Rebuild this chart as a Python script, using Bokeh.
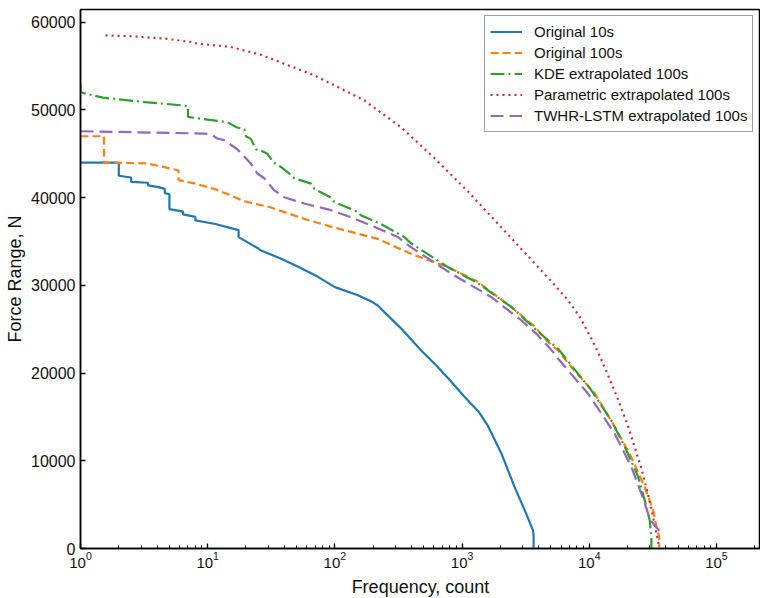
from bokeh.plotting import figure
from bokeh.models import Range1d, FixedTicker, Legend, LegendItem, BasicTickFormatter
from bokeh.embed import file_html
from bokeh.resources import INLINE

# ---------------- data ----------------
orig10_x = [1, 2, 2, 2.5, 2.5, 3.4, 3.4, 4.1, 4.6, 4.6, 5.0, 5.0, 6.4, 6.4, 8.0, 8.0,
            11.5, 17.5, 17.5, 25, 26, 37, 50, 73, 100, 150, 192, 217, 331, 475, 644,
            800, 1044, 1350, 1593, 2030, 2590, 3100, 3606, 3650, 3650]
orig10_y = [44000, 44000, 42500, 42300, 41800, 41700, 41400, 41200, 41000, 40500, 40400,
            38700, 38400, 38100, 37800, 37400, 37000, 36300, 35500, 34200, 34000, 33100,
            32200, 31000, 29800, 28900, 28200, 27700, 25100, 22600, 20700, 19200, 17300,
            15600, 14000, 10900, 7000, 4400, 2100, 1500, 0]

orig100_x = [1, 1.53, 1.53, 3.3, 4.5, 5.9, 5.9, 8, 11.2, 15, 19.3, 31, 57, 93, 170, 217,
             396, 771, 1330, 2432, 3716, 4730, 5670, 7210, 11020, 15830, 21430, 27300,
             31750, 33710, 35500, 35500]
orig100_y = [47000, 47000, 44000, 43900, 43500, 43100, 42000, 41600, 41000, 40300, 39600,
             38900, 37600, 36700, 35700, 35300, 33600, 32100, 30400, 27550, 25300, 23550,
             22600, 20700, 17700, 13900, 10400, 7000, 4400, 2500, 1300, 0]

kde_x = [1, 1, 1.5, 3.2, 6.5, 7.0, 7.0, 10, 14.3, 17, 19.4, 20, 21.8, 24, 26, 29.5, 33,
         37.6, 45, 48, 65, 69, 93, 99, 150, 160, 230, 352, 396, 771, 1330, 2432, 3716,
         4730, 5670, 7210, 10370, 14900, 19000, 24200, 27300, 29900, 30800, 30800]
kde_y = [53000, 52000, 51400, 50900, 50500, 50400, 49200, 48900, 48600, 48000, 47800,
         47000, 46700, 45500, 45400, 45000, 44000, 43500, 42600, 42200, 41600, 41000,
         40000, 39500, 38400, 38000, 37000, 35500, 34800, 32100, 30250, 27550, 25100,
         23750, 22800, 20900, 18050, 14600, 11600, 8200, 5500, 3200, 1000, 0]

param_x = [1.574, 2.48, 4.54, 7.35, 8.30, 15.2, 26.1, 68.8, 170, 331, 607, 1109, 2028,
           2745, 3716, 5021, 6792, 8403, 10368, 12074, 14030, 16830, 20180, 25660, 28970,
           31720, 33710, 35370]
param_y = [58500, 58400, 58140, 57750, 57570, 57180, 56300, 53950, 51100, 48030, 44490,
           40730, 36630, 34580, 32520, 30470, 28310, 26430, 23970, 21980, 19760, 17020,
           13940, 9150, 6190, 3625, 1744, 262]

lstm_x = [1, 9.4, 10.6, 11.9, 13.5, 17.1, 21.8, 24.6, 27.8, 33.3, 40, 57.4, 93, 134, 217,
          312, 396, 819, 1690, 2915, 3945, 5330, 5670, 9770, 15830, 21430, 25700, 29000,
          30000, 36800]
lstm_y = [47570, 47310, 47230, 46740, 46550, 45520, 43890, 42750, 42210, 40850, 40050,
          39330, 38570, 37770, 36510, 35520, 34350, 31350, 28680, 26030, 24320, 22230,
          21660, 17670, 13110, 9300, 6270, 3990, 3250, 1800]

labels = ["Original 10s", "Original 100s", "KDE extrapolated 100s",
          "Parametric extrapolated 100s", "TWHR-LSTM extrapolated 100s"]
y_ticks = [0, 10000, 20000, 30000, 40000, 50000, 60000]

FONT = "Liberation Sans"

p = figure(x_axis_type="log", output_backend="svg", toolbar_location=None,
           frame_width=680, frame_height=539,
           min_border_left=80, min_border_right=0, min_border_top=9, min_border_bottom=50,
           x_range=Range1d(1, 2.22e5), y_range=Range1d(0, 61450),
           background_fill_color="white", border_fill_color="white")

p.xgrid.visible = False
p.ygrid.visible = False
p.outline_line_color = "black"
p.outline_line_width = 1.5

r1 = p.line(orig10_x, orig10_y, line_color="#1f77b4", line_width=2.2)
r2 = p.line(orig100_x, orig100_y, line_color="#ff7f0e", line_width=2.2, line_dash="8 4")
r3 = p.line(kde_x, kde_y, line_color="#2ca02c", line_width=2.2, line_dash="14 4 2 4")
r4 = p.line(param_x, param_y, line_color="#d62728", line_width=2.2, line_dash="2 4")
r5 = p.line(lstm_x, lstm_y, line_color="#9467bd", line_width=2.2, line_dash="13 6")

legend = Legend(items=[LegendItem(label=l, renderers=[r]) for l, r in
                       zip(labels, [r1, r2, r3, r4, r5])],
                location=(404, 416), margin=0, padding=5, spacing=0,
                label_height=21, glyph_height=21, glyph_width=32, label_standoff=12,
                label_text_font=FONT, label_text_font_size="15px", label_text_color="#111111",
                border_line_color="#444444", border_line_width=1.2,
                background_fill_color="white", background_fill_alpha=1.0)
p.add_layout(legend)

for ax in (p.xaxis[0], p.yaxis[0]):
    ax.axis_line_width = 1.5
    ax.axis_line_color = "black"
    ax.major_tick_in = 5
    ax.major_tick_out = 0
    ax.minor_tick_in = 3
    ax.minor_tick_out = 0
    ax.major_tick_line_width = 1.3
    ax.major_label_text_font = FONT
    ax.major_label_text_font_size = "15px"
    ax.major_label_text_color = "#111111"
    ax.axis_label_text_font = FONT
    ax.axis_label_text_font_size = "18px"
    ax.axis_label_text_font_style = "normal"
    ax.axis_label_text_color = "#111111"

p.yaxis.ticker = FixedTicker(ticks=y_ticks)
p.yaxis.formatter = BasicTickFormatter(use_scientific=False)
p.yaxis.minor_tick_line_color = None
p.yaxis.major_label_text_font_size = "16px"
p.yaxis.major_label_standoff = 5
p.yaxis.axis_label = "Force Range, N"
p.yaxis.axis_label_standoff = 3

p.xaxis.major_label_standoff = 3
p.xaxis.axis_label = "Frequency, count"
p.xaxis.axis_label_standoff = 6

open("out.html", "w").write(file_html(p, INLINE))
